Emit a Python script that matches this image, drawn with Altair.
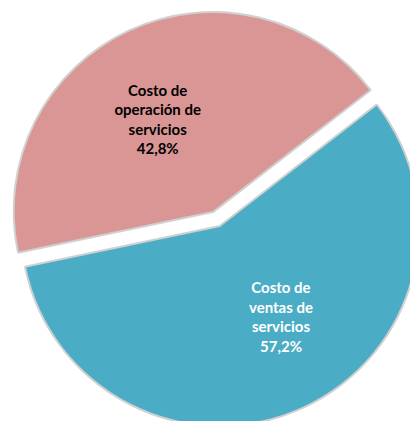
import math
import altair as alt
import pandas as pd

categories = ["Costo de operación de servicios", "Costo de ventas de servicios"]
values = [42.8, 57.2]
labels = ["Costo de\noperación de\nservicios\n42,8%", "Costo de\nventas de\nservicios\n57,2%"]
colors = ["#D99694", "#4BACC6"]
text_colors = ["#000000", "#FFFFFF"]
explode = [17.5, 0]
label_shift = [(-11, -25), (17, -34)]

# layout (style) parameters
W, H = 402, 413
CX, CY = 212, 219
R = 198
LABEL_R = 105
LINE_H = 19.5
START = math.radians(258.2)

ends = []
acc = 0
for v in values:
    acc += v
    ends.append(acc)
starts = [e - v for e, v in zip(ends, values)]

df = pd.DataFrame({
    "cat": categories,
    "value": values,
    "label": labels,
    "start": starts,
    "end": ends,
    "mid": [(s + e) / 2 for s, e in zip(starts, ends)],
})

theta_scale = alt.Scale(domain=[0, 100], range=[START, START + 2 * math.pi])

shadows, arcs, texts = [], [], []
for i, cat in enumerate(categories):
    mid_ang = START + (starts[i] + ends[i]) / 2 / 100 * 2 * math.pi
    cx = CX + explode[i] * math.sin(mid_ang)
    cy = CY - explode[i] * math.cos(mid_ang)
    base = alt.Chart(df).transform_filter(alt.datum.cat == cat)
    enc = dict(
        theta=alt.Theta("start:Q", scale=theta_scale),
        theta2="end:Q",
        x=alt.value(cx),
        y=alt.value(cy),
    )
    shadows.append(base.mark_arc(
        outerRadius=R, fillOpacity=0, stroke="#777777", strokeWidth=4,
        strokeOpacity=0.35, strokeJoin="round", clip=True,
    ).encode(**enc))
    arcs.append(base.mark_arc(outerRadius=R, color=colors[i], clip=True).encode(**enc))
    texts.append(base.mark_text(
        font="Lato", fontSize=15, fontWeight="bold", color=text_colors[i],
        lineBreak="\n", align="center", baseline="middle", lineHeight=LINE_H,
        dx=label_shift[i][0], dy=label_shift[i][1],
    ).encode(
        theta=alt.Theta("mid:Q", scale=theta_scale),
        radius=alt.value(LABEL_R),
        x=alt.value(cx),
        y=alt.value(cy),
        text="label:N",
    ))

chart = alt.layer(*shadows, *arcs, *texts).properties(
    width=W, height=H, padding=0
).configure_view(stroke=None)

chart.save("out.html", embed_options={"renderer": "svg", "actions": False})
